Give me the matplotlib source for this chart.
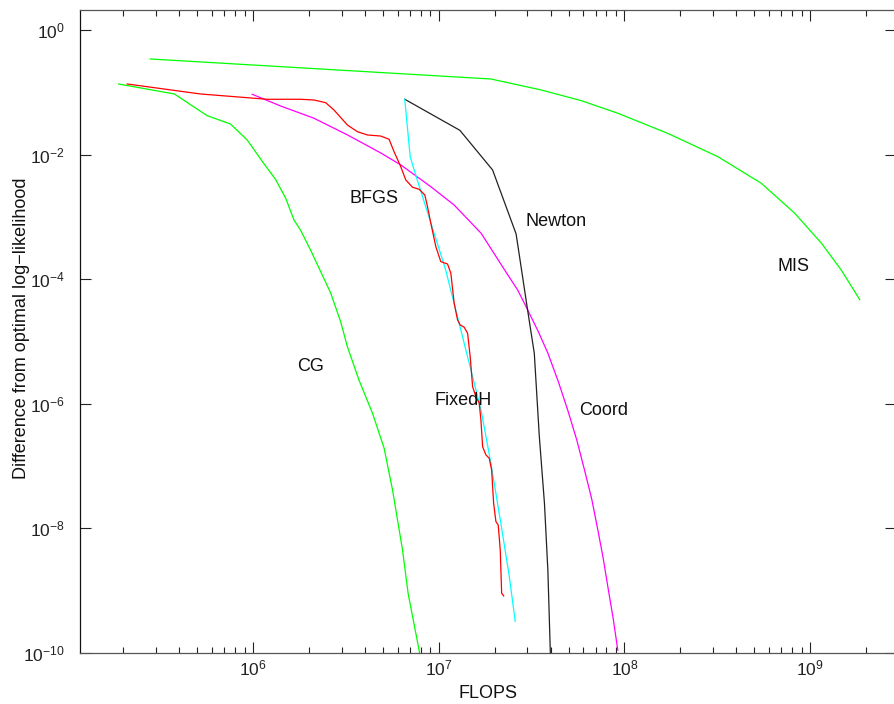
import numpy as np
import matplotlib
matplotlib.use("Agg")
import matplotlib.pyplot as plt
from matplotlib.ticker import LogLocator, FixedLocator, NullLocator, NullFormatter

plt.rcParams['font.family'] = ['Liberation Sans', 'DejaVu Sans']
plt.rcParams['mathtext.fontset'] = 'custom'
plt.rcParams['mathtext.rm'] = 'Liberation Sans'
plt.rcParams['mathtext.it'] = 'Liberation Sans'

# FLOPS / difference from optimal log-likelihood
cg_x = [1.89e5, 3.77e5, 5.66e5, 7.56e5, 9.3e5, 1.14e6, 1.32e6, 1.50e6, 1.66e6, 1.80e6,
        2.04e6, 2.62e6, 2.96e6, 3.22e6, 3.72e6, 4.40e6, 5.08e6, 5.64e6, 6.38e6, 6.84e6, 8.0e6]
cg_y = [0.137, 0.0948, 0.0425, 0.0312, 0.0173, 7.3e-3, 4.05e-3, 2.0e-3, 9.0e-4, 6.2e-4,
        2.95e-4, 6.0e-5, 2.1e-5, 8.3e-6, 2.4e-6, 7.0e-7, 1.93e-7, 4.1e-8, 4.5e-9, 9.0e-10, 8e-11]

mis_x = [2.80e5, 1.91e7, 3.56e7, 5.86e7, 9.21e7, 1.71e8, 3.19e8, 5.46e8, 8.26e8, 1.15e9, 1.47e9, 1.85e9]
mis_y = [0.346, 0.165, 0.110, 0.074, 0.0465, 0.0221, 9.3e-3, 3.48e-3, 1.15e-3, 3.8e-4, 1.41e-4, 4.7e-5]

newton_x = [6.56e6, 1.30e7, 1.95e7, 2.61e7, 3.01e7, 3.27e7, 3.48e7, 3.71e7, 3.87e7, 3.99e7]
newton_y = [0.078, 0.0247, 5.7e-3, 5.35e-4, 3.2e-5, 6.5e-6, 3.0e-7, 2.5e-8, 2.1e-9, 1e-10]

fixedh_x = [6.56e6, 7.02e6, 7.37e6, 1.09e7, 1.21e7, 1.49e7, 1.69e7, 1.91e7, 2.16e7, 2.40e7, 2.58e7]
fixedh_y = [0.078, 9.3e-3, 5.7e-3, 1.41e-4, 4.1e-5, 3.5e-6, 7.9e-7, 1.1e-7, 1.2e-8, 1.67e-9, 3.2e-10]

coord_x = [9.9e5, 1.407e6, 2.13e6, 3.22e6, 4.87e6, 6.25e6, 9.06e6, 1.21e7, 1.69e7, 2.30e7,
           2.661e7, 3.01e7, 3.437e7, 3.87e7, 4.406e7, 4.95e7, 5.538e7, 6.09e7, 6.673e7, 7.19e7,
           7.676e7, 8.14e7, 8.69e7, 9.21e7]
coord_y = [0.0937, 0.0608, 0.0386, 0.0209, 0.0107, 6.86e-3, 3.07e-3, 1.56e-3, 5.5e-4, 1.31e-4,
           6.73e-5, 3.24e-5, 1.44e-5, 6.5e-6, 2.26e-6, 7.9e-7, 2.62e-7, 8.7e-8, 2.90e-8, 9.4e-9,
           3.36e-9, 1.15e-9, 3.59e-10, 1.1e-10]

bfgs_x = [2.10e5, 5.21e5, 1.193e6, 1.804e6, 2.128e6, 2.460e6, 2.728e6, 3.222e6, 3.648e6, 4.130e6,
          4.872e6, 5.402e6, 5.746e6, 6.245e6, 6.645e6, 7.224e6, 7.842e6, 8.414e6, 8.701e6, 9.066e6,
          9.647e6, 1.026e7, 1.115e7, 1.162e7, 1.211e7, 1.263e7, 1.305e7, 1.371e7, 1.430e7, 1.477e7,
          1.522e7, 1.586e7, 1.652e7, 1.687e7, 1.723e7, 1.795e7, 1.870e7, 1.927e7, 1.975e7, 2.032e7,
          2.091e7, 2.144e7, 2.182e7, 2.237e7]
bfgs_y = [0.1372, 0.0948, 0.0779, 0.0779, 0.0759, 0.0687, 0.0524, 0.0301, 0.0235, 0.0208,
          0.0200, 0.01774, 0.01121, 6.44e-3, 3.94e-3, 3.01e-3, 2.79e-3, 2.26e-3, 1.466e-3, 7.93e-4,
          3.34e-4, 1.92e-4, 1.76e-4, 1.249e-4, 4.12e-5, 2.22e-5, 1.845e-5, 1.694e-5, 1.357e-5, 5.71e-6,
          1.882e-6, 1.300e-6, 1.019e-6, 5.49e-7, 2.045e-7, 1.505e-7, 1.332e-7, 8.64e-8, 2.52e-8, 1.276e-8,
          1.130e-8, 4.48e-9, 9.03e-10, 8.18e-10]

label_names = ['CG', 'BFGS', 'Newton', 'MIS', 'Coord', 'FixedH']
label_x = [2.05e6, 4.47e6, 4.28e7, 8.13e8, 7.76e7, 1.35e7]
label_y = [3.9e-6, 2.02e-3, 8.6e-4, 1.62e-4, 7.7e-7, 1.11e-6]

fig = plt.figure(figsize=(8.95, 7.04), dpi=100)
ax = fig.add_axes([80 / 895, (704 - 652.7) / 704, (896 - 80) / 895, (652.7 - 10) / 704])

lw = 0.9
ax.plot(cg_x, cg_y, color='#00ff00', lw=lw)
ax.plot(mis_x, mis_y, color='#00ff00', lw=lw)
ax.plot(coord_x, coord_y, color='#ff00ff', lw=lw)
ax.plot(newton_x, newton_y, color='#222222', lw=lw)
ax.plot(fixedh_x, fixedh_y, color='#00ffff', lw=lw)
ax.plot(bfgs_x, bfgs_y, color='#ff0000', lw=lw)

for name, x, y in zip(label_names, label_x, label_y):
    ax.text(x, y, name, fontsize=13, ha='center', va='center', color='#111111')

ax.set_xscale('log')
ax.set_yscale('log')
ax.set_xlim(1.17e5, 2.9e9)
ax.set_ylim(1e-10, 10 ** 0.326)

ax.xaxis.set_major_locator(FixedLocator([1e6, 1e7, 1e8, 1e9]))
ax.xaxis.set_minor_locator(LogLocator(base=10, subs=np.arange(2, 10), numticks=50))
ax.xaxis.set_minor_formatter(NullFormatter())
ax.yaxis.set_major_locator(FixedLocator([1e-10, 1e-8, 1e-6, 1e-4, 1e-2, 1e0]))
ax.yaxis.set_minor_locator(NullLocator())

ax.tick_params(which='both', direction='in', top=True, right=True, labelsize=12.5,
               colors='#222222', width=0.8)
ax.tick_params(which='major', length=8)
ax.tick_params(which='minor', length=4)
ax.tick_params(axis='y', pad=11)
ax.tick_params(axis='x', pad=4)

for s in ax.spines.values():
    s.set_color('#555555')
    s.set_linewidth(0.9)
ax.spines['left'].set_color('#111111')

ax.set_xlabel('FLOPS', fontsize=13, color='#111111', labelpad=5)
ax.set_ylabel('Difference from optimal log\u2212likelihood', fontsize=13, color='#111111')
ax.yaxis.set_label_coords(-0.061, 0.505)

fig.savefig('out.png', dpi=100)
